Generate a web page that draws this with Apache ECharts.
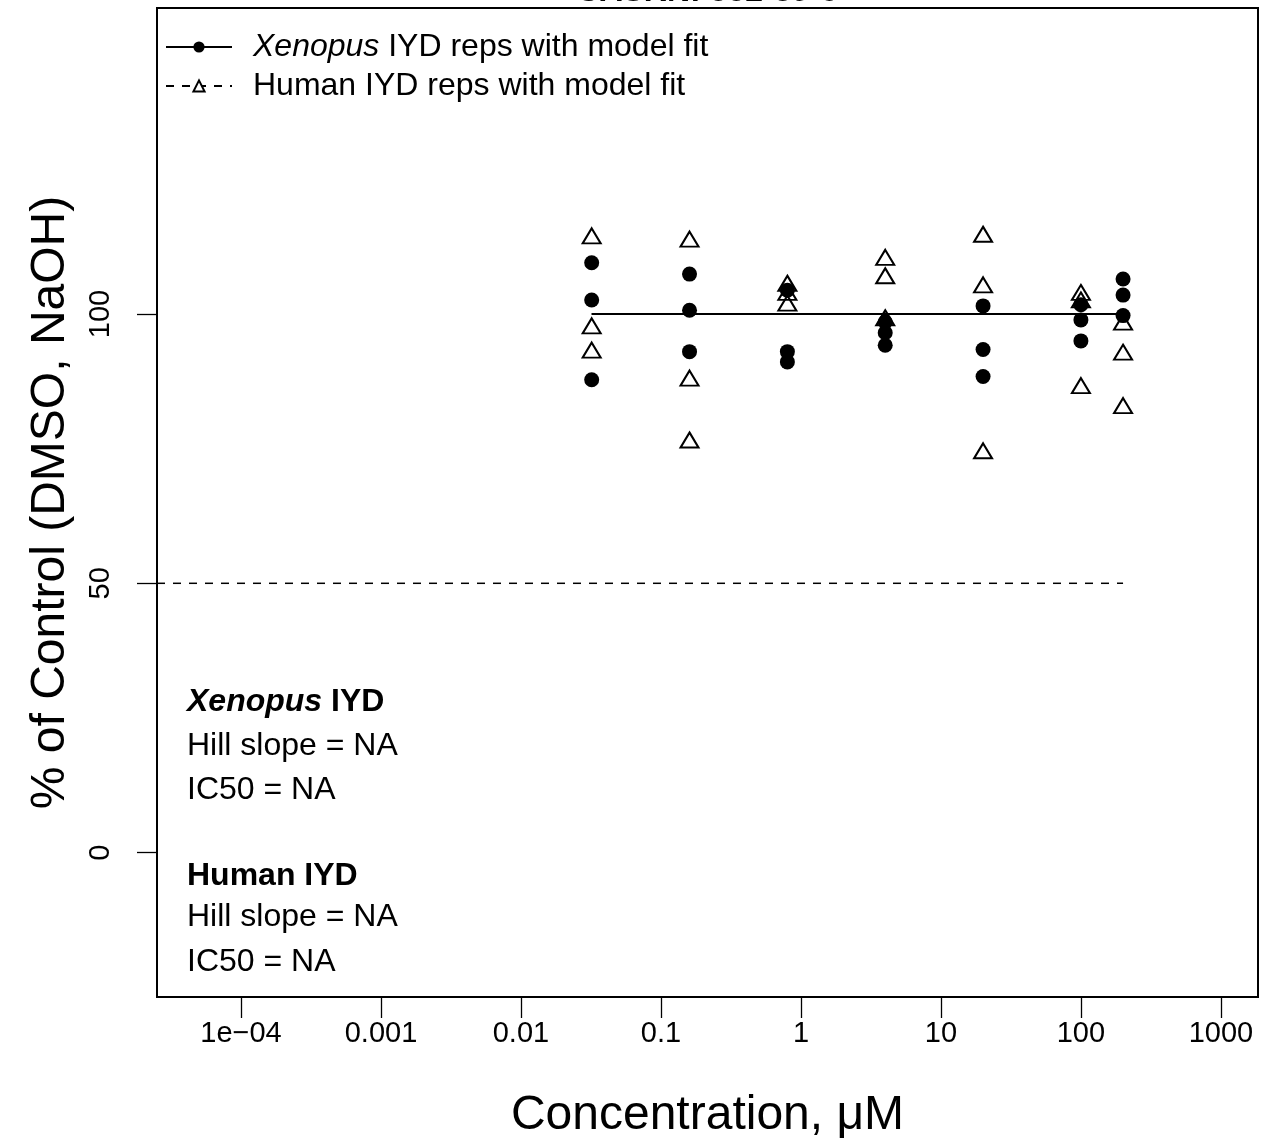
<!DOCTYPE html>
<html><head><meta charset="utf-8">
<script src="https://cdn.jsdelivr.net/npm/echarts@6/dist/echarts.min.js"></script>
<style>html,body{margin:0;padding:0;background:#fff}#c{width:1263px;height:1143px}</style>
</head><body><div id="c"></div>
<script>
// ---- data ----
const concentrations = [0.032, 0.16, 0.8, 4, 20, 100, 200];
const xenopusReps = [[109.5,102.6,87.8],[107.4,100.7,93.0],[104.4,93.0,91.1],[98.5,96.5,94.2],[101.5,93.4,88.4],[101.7,98.9,95.0],[106.5,103.5,99.7]];
const humanReps = [[114.5,97.8,93.3],[113.9,88.1,76.6],[105.7,104.0,102.0],[110.5,107.1,99.3],[114.8,105.4,74.6],[104.0,102.6,86.7],[98.5,92.9,83.0]];
const xenopusFitLevel = 100;
const humanFitLevel = 100;
const refLevel = 50;
const xTickValues = [1e-4, 1e-3, 1e-2, 0.1, 1, 10, 100, 1000];
const xTickLabels = ['1e\u221204', '0.001', '0.01', '0.1', '1', '10', '100', '1000'];
const yTickValues = [0, 50, 100];
const xLimits = [Math.pow(10, -4.6), Math.pow(10, 3.265)];
const yLimits = [-26.8, 156.8];
const titleText = 'CASRN: 552-89-6';
const legendNames = ['Xenopus IYD reps with model fit', 'Human IYD reps with model fit'];
const annotXenopus = ['Hill slope = NA', 'IC50 = NA'];
const annotHuman = ['Hill slope = NA', 'IC50 = NA'];

// ---- build ----
function reps(arr) {
  const out = [];
  concentrations.forEach((c, i) => arr[i].forEach(v => out.push([c, v])));
  return out;
}
const cLo = concentrations[0], cHi = concentrations[concentrations.length - 1];
const FONT = 'Liberation Sans, Arial, sans-serif';

const chart = echarts.init(document.getElementById('c'), null, {renderer: 'canvas'});
chart.setOption({
  animation: false,
  backgroundColor: '#fff',
  textStyle: {fontFamily: FONT, color: '#000'},
  grid: {left: 157, right: 5, top: 8, bottom: 146, show: true, borderColor: '#000', borderWidth: 2, backgroundColor: 'transparent',
    containLabel: false, outerBoundsMode: 'none'},
  xAxis: {
    type: 'log', logBase: 10, min: xLimits[0], max: xLimits[1],
    name: 'Concentration, \u03bcM', nameLocation: 'middle', nameGap: 95,
    nameTextStyle: {fontSize: 48, color: '#000', fontFamily: FONT},
    axisLine: {show: false, onZero: false},
    splitLine: {show: false},
    axisTick: {show: true, length: 21, lineStyle: {color: '#000', width: 1.3}, customValues: xTickValues},
    axisLabel: {
      customValues: xTickValues, fontSize: 29, color: '#000', margin: 22, fontFamily: FONT,
      formatter: v => { const k = Math.round(Math.log10(v)) + 4; return xTickLabels[k] !== undefined ? xTickLabels[k] : ''; }
    }
  },
  yAxis: {
    type: 'value', min: yLimits[0], max: yLimits[1],
    name: '% of Control (DMSO, NaOH)', nameLocation: 'middle', nameGap: 82,
    nameTextStyle: {fontSize: 48, color: '#000', fontFamily: FONT},
    axisLine: {show: false, onZero: false},
    splitLine: {show: false},
    axisTick: {show: true, length: 20, lineStyle: {color: '#000', width: 1.3}, customValues: yTickValues},
    axisLabel: {customValues: yTickValues, fontSize: 29, color: '#000', rotate: 90, margin: 42, fontFamily: FONT}
  },
  legend: {
    data: legendNames, orient: 'vertical', left: 160, top: 26, itemWidth: 66, itemHeight: 14, itemGap: 7,
    selectedMode: false,
    textStyle: {fontSize: 32, color: '#000', fontFamily: FONT, padding: [0, 0, 0, 16],
      rich: {i: {fontSize: 32, fontStyle: 'italic', color: '#000', fontFamily: FONT}}},
    formatter: n => n.indexOf('Xenopus') === 0 ? '{i|Xenopus}' + n.slice(7) : n
  },
  graphic: [
    {type: 'text', x: 707, y: -8, z: 100, style: {text: titleText, textAlign: 'center', textVerticalAlign: 'middle', font: 'bold 32px ' + FONT, fill: '#000'}},
    {type: 'text', x: 187, y: 702, style: {text: '{bi|Xenopus}{b| IYD}', textVerticalAlign: 'middle', rich: {bi: {font: 'italic bold 32px ' + FONT, fill: '#000'}, b: {font: 'bold 32px ' + FONT, fill: '#000'}}}},
    {type: 'text', x: 187, y: 746, style: {text: annotXenopus[0], textVerticalAlign: 'middle', font: '32px ' + FONT, fill: '#000'}},
    {type: 'text', x: 187, y: 790, style: {text: annotXenopus[1], textVerticalAlign: 'middle', font: '32px ' + FONT, fill: '#000'}},
    {type: 'text', x: 187, y: 876, style: {text: 'Human IYD', textVerticalAlign: 'middle', font: 'bold 32px ' + FONT, fill: '#000'}},
    {type: 'text', x: 187, y: 917, style: {text: annotHuman[0], textVerticalAlign: 'middle', font: '32px ' + FONT, fill: '#000'}},
    {type: 'text', x: 187, y: 962, style: {text: annotHuman[1], textVerticalAlign: 'middle', font: '32px ' + FONT, fill: '#000'}}
  ],
  series: [
    {
      name: 'ref50', type: 'line', data: [[xLimits[0], refLevel], [cHi, refLevel]], showSymbol: false, symbol: 'none',
      lineStyle: {color: '#000', width: 1.5, type: [8, 8]}, silent: true, z: 1
    },
    {
      name: legendNames[1], type: 'line', data: [[cLo, humanFitLevel], [cHi, humanFitLevel]], showSymbol: false,
      symbol: 'triangle', symbolSize: [18, 15],
      itemStyle: {color: '#fff', borderColor: '#000', borderWidth: 2},
      lineStyle: {color: '#000', width: 1.5, type: [8, 8]}, z: 2
    },
    {
      name: legendNames[0], type: 'line', data: [[cLo, xenopusFitLevel], [cHi, xenopusFitLevel]], showSymbol: false,
      symbol: 'circle', symbolSize: 15,
      itemStyle: {color: '#000'},
      lineStyle: {color: '#000', width: 2}, z: 3
    },
    {
      name: 'humanPts', type: 'scatter', data: reps(humanReps), symbol: 'triangle', symbolSize: [18, 15],
      itemStyle: {color: 'rgba(0,0,0,0)', borderColor: '#000', borderWidth: 2, opacity: 1}, z: 4
    },
    {
      name: 'xenopusPts', type: 'scatter', data: reps(xenopusReps), symbol: 'circle', symbolSize: 15,
      itemStyle: {color: '#000', opacity: 1}, z: 5
    }
  ]
});
</script></body></html>
